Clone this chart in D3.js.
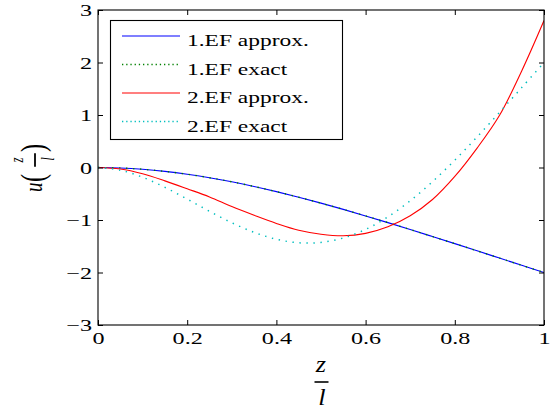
<!DOCTYPE html>
<html>
<head>
<meta charset="utf-8">
<script src="https://cdn.jsdelivr.net/npm/d3@7"></script>
<style>
  html, body { margin: 0; padding: 0; background: #fff; }
  svg { display: block; }
  svg text { font-family: "Liberation Serif", "Times New Roman", Times, serif; }
</style>
</head>
<body>
<svg id="chart" width="558" height="412"></svg>
<script>
// Sample positions along the normalised coordinate z/l
const zVals = [0, 0.05, 0.1, 0.15, 0.2, 0.25, 0.3, 0.35, 0.4, 0.45, 0.5,
               0.55, 0.6, 0.65, 0.7, 0.75, 0.8, 0.85, 0.9, 0.95, 1];

// First eigenfunction: approximation and exact shape
const ef1Approx = [0, -0.009, -0.034, -0.074, -0.128, -0.195, -0.273, -0.362, -0.460, -0.566, -0.679,
                   -0.798, -0.922, -1.050, -1.181, -1.315, -1.450, -1.587, -1.725, -1.863, -2.001];
const ef1Exact  = [0, -0.0086, -0.0335, -0.0737, -0.1277, -0.1946, -0.2730, -0.3617, -0.4598, -0.5659, -0.6790,
                   -0.7982, -0.9223, -1.0504, -1.1817, -1.3155, -1.4509, -1.5875, -1.7248, -1.8623, -2.0];

// Second eigenfunction: approximation and exact shape
const ef2Approx = [0, -0.03, -0.12, -0.255, -0.405, -0.56, -0.745, -0.91, -1.065, -1.195, -1.27,
                   -1.30, -1.255, -1.13, -0.92, -0.61, -0.17, 0.37, 0.99, 1.84, 2.8];
const ef2Exact  = [0, -0.0507, -0.1853, -0.3776, -0.6021, -0.8345, -1.0523, -1.2353, -1.3669, -1.4339, -1.4273,
                   -1.3425, -1.1789, -0.9404, -0.6341, -0.2699, 0.1401, 0.5834, 1.0476, 1.5223, 2.0];

const xTickVals = [0, 0.2, 0.4, 0.6, 0.8, 1];
const xTickLabels = ["0", "0.2", "0.4", "0.6", "0.8", "1"];
const yTickVals = [-3, -2, -1, 0, 1, 2, 3];
const yTickLabels = ["\u22123", "\u22122", "\u22121", "0", "1", "2", "3"];
const legendLabels = ["1.EF approx.", "1.EF exact", "2.EF approx.", "2.EF exact"];

const STRETCH = 1.38;   // glyphs are drawn wider than tall

const svg = d3.select("#chart");
const x = d3.scaleLinear().domain([0, 1]).range([98, 544]);
const y = d3.scaleLinear().domain([-3, 3]).range([325, 10]);

svg.append("rect").attr("x", 0).attr("y", 0).attr("width", 558).attr("height", 412).attr("fill", "#fff");

// Curves
const series = [
  { values: ef1Approx, color: "#0000ff", dash: null, width: 1.1 },
  { values: ef1Exact,  color: "#008000", dash: "1.4,5.6", width: 1.4 },
  { values: ef2Approx, color: "#ff0000", dash: null, width: 1.1 },
  { values: ef2Exact,  color: "#00bfbf", dash: "1.4,5.6", width: 1.5 }
];
const lineGen = d3.line()
  .x((d, i) => x(zVals[i]))
  .y(d => y(d))
  .curve(d3.curveCatmullRom.alpha(0.5));

svg.append("clipPath").attr("id", "plotClip")
  .append("rect").attr("x", 98).attr("y", 10).attr("width", 446).attr("height", 315);

const curves = svg.append("g").attr("clip-path", "url(#plotClip)");
series.forEach(s => {
  curves.append("path")
    .attr("d", lineGen(s.values))
    .attr("fill", "none")
    .attr("stroke", s.color)
    .attr("stroke-width", s.width)
    .attr("stroke-dasharray", s.dash);
});

// Axes with inward ticks on all four sides
function styleAxis(g) {
  g.select(".domain").remove();
  g.selectAll(".tick line").attr("stroke", "#000").attr("stroke-width", 1);
  g.selectAll("text").attr("font-family", null).attr("font-size", 17.5).attr("fill", "#000");
}

const xAxis = svg.append("g").attr("transform", "translate(0,325)")
  .call(d3.axisBottom(x).tickValues(xTickVals).tickFormat((d, i) => xTickLabels[i])
        .tickSizeInner(-5).tickSizeOuter(0).tickPadding(7));
styleAxis(xAxis);
xAxis.selectAll("text").attr("transform", `scale(${STRETCH},1)`);

const yAxis = svg.append("g").attr("transform", "translate(98,0)")
  .call(d3.axisLeft(y).tickValues(yTickVals).tickFormat((d, i) => yTickLabels[i])
        .tickSizeInner(-5).tickSizeOuter(0).tickPadding(6));
styleAxis(yAxis);
yAxis.selectAll("text").attr("x", -6 / STRETCH).attr("transform", `scale(${STRETCH},1)`);

const topAxis = svg.append("g").attr("transform", "translate(0,10)")
  .call(d3.axisTop(x).tickValues(xTickVals).tickFormat("").tickSizeInner(-5).tickSizeOuter(0));
styleAxis(topAxis);

const rightAxis = svg.append("g").attr("transform", "translate(544,0)")
  .call(d3.axisRight(y).tickValues(yTickVals).tickFormat("").tickSizeInner(-5).tickSizeOuter(0));
styleAxis(rightAxis);

// Frame
svg.append("rect")
  .attr("x", 98).attr("y", 10).attr("width", 446).attr("height", 315)
  .attr("fill", "none").attr("stroke", "#000").attr("stroke-width", 1.1);

// Legend
const legend = svg.append("g");
legend.append("rect")
  .attr("x", 110.5).attr("y", 20.5).attr("width", 232).attr("height", 119)
  .attr("fill", "#fff").attr("stroke", "#000").attr("stroke-width", 1.1);
const rowY = [36, 64.5, 93, 121.5];
series.forEach((s, i) => {
  legend.append("line")
    .attr("x1", 122).attr("x2", 180)
    .attr("y1", rowY[i]).attr("y2", rowY[i])
    .attr("stroke", s.color).attr("stroke-width", s.width)
    .attr("stroke-dasharray", s.dash ? "1.3,2.9" : null);
  legend.append("text")
    .attr("transform", `translate(187,${rowY[i] + 10}) scale(1.34,1)`)
    .attr("font-size", 17.5).attr("fill", "#000")
    .text(legendLabels[i]);
});

// x-axis label: z over l
const xl = svg.append("g");
xl.append("text").attr("x", 321).attr("y", 372).attr("text-anchor", "middle")
  .attr("font-style", "italic").attr("font-size", 24)
  .attr("transform", "translate(321,0) scale(1.1,1) translate(-321,0)")
  .text("z");
xl.append("line").attr("x1", 314.5).attr("x2", 328.5).attr("y1", 382).attr("y2", 382)
  .attr("stroke", "#000").attr("stroke-width", 1.6);
xl.append("text").attr("x", 322).attr("y", 405).attr("text-anchor", "middle")
  .attr("font-style", "italic").attr("font-size", 24)
  .attr("transform", "translate(322,0) scale(1.1,1) translate(-322,0)")
  .text("l");

// y-axis label: u( z over l ), rotated
const yl = svg.append("g").attr("transform", `translate(35,167.5) rotate(-90) scale(1,${STRETCH})`);
yl.append("text").attr("x", -24.5).attr("y", 5)
  .attr("font-style", "italic").attr("font-size", 19).text("u");
yl.append("text").attr("x", -14.5).attr("y", 6.3)
  .attr("font-size", 24.5).text("(");
yl.append("text").attr("x", 7.5).attr("y", -8.6).attr("text-anchor", "middle")
  .attr("font-style", "italic").attr("font-size", 13).text("z");
yl.append("line").attr("x1", 0.8).attr("x2", 14.2).attr("y1", 0).attr("y2", 0)
  .attr("stroke", "#000").attr("stroke-width", 1.3);
yl.append("text").attr("x", 8.5).attr("y", 13.5).attr("text-anchor", "middle")
  .attr("font-style", "italic").attr("font-size", 13).text("l");
yl.append("text").attr("x", 15.5).attr("y", 6.3)
  .attr("font-size", 24.5).text(")");
</script>
</body>
</html>
